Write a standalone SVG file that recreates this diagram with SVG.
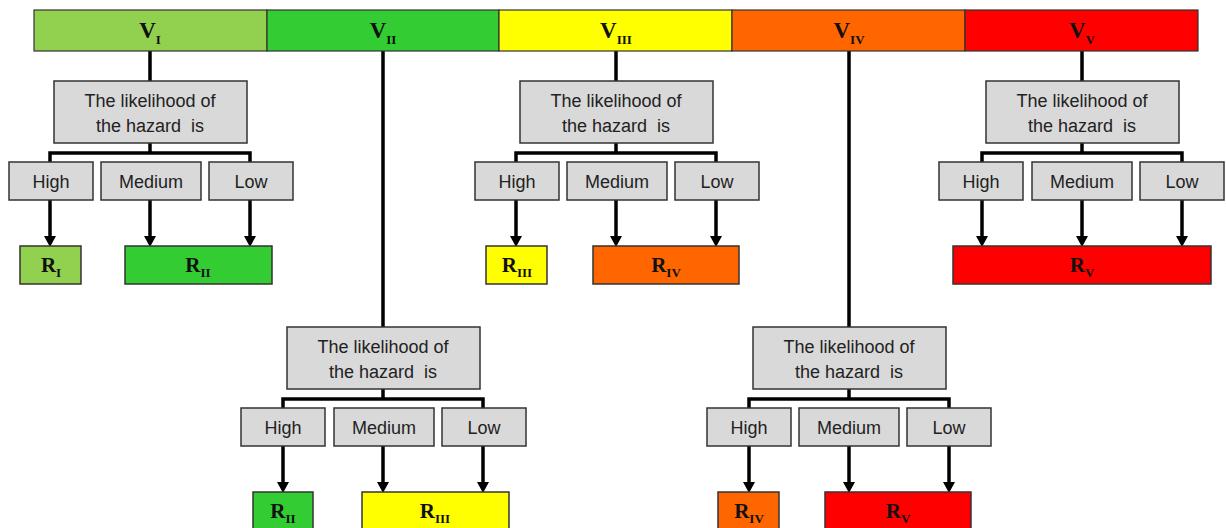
<svg xmlns="http://www.w3.org/2000/svg" width="1226" height="528" viewBox="0 0 1226 528">
<style>
.bar{stroke:#333;stroke-width:1.2}
.box{fill:#D9D9D9;stroke:#333;stroke-width:1.5}
.rbox{stroke:#333;stroke-width:1.5}
.t{font-family:"Liberation Sans",Arial,sans-serif;font-size:18px;fill:#222;text-anchor:middle;white-space:pre}
.v{font-family:"Liberation Serif","Times New Roman",serif;font-weight:bold;font-size:23px;fill:#111;text-anchor:middle}
.r{font-family:"Liberation Serif","Times New Roman",serif;font-weight:bold;font-size:21px;fill:#111;text-anchor:middle}
.s{font-size:13px}
.ln{fill:none;stroke:#000;stroke-width:3.5}
.ar{fill:none;stroke:#000;stroke-width:3.5;marker-end:url(#ah)}
</style>
<defs>
<marker id="ah" markerUnits="userSpaceOnUse" markerWidth="12" markerHeight="12" refX="0" refY="6" orient="auto" viewBox="0 0 11 12">
<path d="M0,0 L11,6 L0,12 z" fill="#000"/>
</marker>
</defs>
<rect width="1226" height="528" fill="#fff"/>

<g id="connectors">
<path class="ln" d="M150 51 V81 M383 51 V327 M616 51 V81 M849 51 V327 M1082 51 V81"/>
<g transform="translate(150,81)">
<path class="ln" d="M0 62 V72 M-100 81 V72 H100 V81"/>
<path class="ar" d="M-100 119 V155"/><path class="ar" d="M0 119 V155"/><path class="ar" d="M100 119 V155"/>
</g>
<g transform="translate(616,81)">
<path class="ln" d="M0 62 V72 M-100 81 V72 H100 V81"/>
<path class="ar" d="M-100 119 V155"/><path class="ar" d="M0 119 V155"/><path class="ar" d="M100 119 V155"/>
</g>
<g transform="translate(1082,81)">
<path class="ln" d="M0 62 V72 M-100 81 V72 H100 V81"/>
<path class="ar" d="M-100 119 V155"/><path class="ar" d="M0 119 V155"/><path class="ar" d="M100 119 V155"/>
</g>
<g transform="translate(383,327)">
<path class="ln" d="M0 62 V72 M-100 81 V72 H100 V81"/>
<path class="ar" d="M-100 119 V155"/><path class="ar" d="M0 119 V155"/><path class="ar" d="M100 119 V155"/>
</g>
<g transform="translate(849,327)">
<path class="ln" d="M0 62 V72 M-100 81 V72 H100 V81"/>
<path class="ar" d="M-100 119 V155"/><path class="ar" d="M0 119 V155"/><path class="ar" d="M100 119 V155"/>
</g>
</g>

<g id="V1"><rect class="bar" x="34" y="10" width="233" height="41" fill="#92D050"/><text class="v" x="150" y="38">V<tspan class="s" dy="6">I</tspan></text></g>
<g id="V2"><rect class="bar" x="267" y="10" width="232" height="41" fill="#33CC33"/><text class="v" x="383" y="38">V<tspan class="s" dy="6">II</tspan></text></g>
<g id="V3"><rect class="bar" x="499" y="10" width="233" height="41" fill="#FFFF00"/><text class="v" x="616" y="38">V<tspan class="s" dy="6">III</tspan></text></g>
<g id="V4"><rect class="bar" x="732" y="10" width="233" height="41" fill="#FF6600"/><text class="v" x="849" y="38">V<tspan class="s" dy="6">IV</tspan></text></g>
<g id="V5"><rect class="bar" x="965" y="10" width="233" height="41" fill="#FF0000"/><text class="v" x="1082" y="38">V<tspan class="s" dy="6">V</tspan></text></g>

<g id="L1" transform="translate(150,81)"><rect class="box" x="-96" y="0" width="193" height="62"/><text class="t" x="0" y="26">The likelihood of</text><text class="t" x="0" y="51">the hazard  is</text></g>
<g id="L1-high" transform="translate(150,81)"><rect class="box" x="-141" y="81" width="84" height="38"/><text class="t" x="-99" y="107">High</text></g>
<g id="L1-medium" transform="translate(150,81)"><rect class="box" x="-49" y="81" width="100" height="38"/><text class="t" x="1" y="107">Medium</text></g>
<g id="L1-low" transform="translate(150,81)"><rect class="box" x="59" y="81" width="84" height="38"/><text class="t" x="101" y="107">Low</text></g>
<g id="R1-a" transform="translate(150,81)"><rect class="rbox" x="-130" y="165" width="61" height="38" fill="#92D050"/><text class="r" x="-99" y="191">R<tspan class="s" dy="5">I</tspan></text></g>
<g id="R1-b" transform="translate(150,81)"><rect class="rbox" x="-25" y="165" width="147" height="38" fill="#33CC33"/><text class="r" x="48" y="191">R<tspan class="s" dy="5">II</tspan></text></g>

<g id="L3" transform="translate(616,81)"><rect class="box" x="-96" y="0" width="193" height="62"/><text class="t" x="0" y="26">The likelihood of</text><text class="t" x="0" y="51">the hazard  is</text></g>
<g id="L3-high" transform="translate(616,81)"><rect class="box" x="-141" y="81" width="84" height="38"/><text class="t" x="-99" y="107">High</text></g>
<g id="L3-medium" transform="translate(616,81)"><rect class="box" x="-49" y="81" width="100" height="38"/><text class="t" x="1" y="107">Medium</text></g>
<g id="L3-low" transform="translate(616,81)"><rect class="box" x="59" y="81" width="84" height="38"/><text class="t" x="101" y="107">Low</text></g>
<g id="R3-a" transform="translate(616,81)"><rect class="rbox" x="-130" y="165" width="61" height="38" fill="#FFFF00"/><text class="r" x="-99" y="191">R<tspan class="s" dy="5">III</tspan></text></g>
<g id="R3-b" transform="translate(616,81)"><rect class="rbox" x="-23" y="165" width="146" height="38" fill="#FF6600"/><text class="r" x="50" y="191">R<tspan class="s" dy="5">IV</tspan></text></g>

<g id="L5" transform="translate(1082,81)"><rect class="box" x="-96" y="0" width="193" height="62"/><text class="t" x="0" y="26">The likelihood of</text><text class="t" x="0" y="51">the hazard  is</text></g>
<g id="L5-high" transform="translate(1082,81)"><rect class="box" x="-143" y="81" width="84" height="38"/><text class="t" x="-101" y="107">High</text></g>
<g id="L5-medium" transform="translate(1082,81)"><rect class="box" x="-50" y="81" width="100" height="38"/><text class="t" x="0" y="107">Medium</text></g>
<g id="L5-low" transform="translate(1082,81)"><rect class="box" x="58" y="81" width="84" height="38"/><text class="t" x="100" y="107">Low</text></g>
<g id="R5" transform="translate(1082,81)"><rect class="rbox" x="-129" y="165" width="258" height="38" fill="#FF0000"/><text class="r" x="0" y="191">R<tspan class="s" dy="5">V</tspan></text></g>

<g id="L2" transform="translate(383,327)"><rect class="box" x="-96" y="0" width="193" height="62"/><text class="t" x="0" y="26">The likelihood of</text><text class="t" x="0" y="51">the hazard  is</text></g>
<g id="L2-high" transform="translate(383,327)"><rect class="box" x="-142" y="81" width="84" height="38"/><text class="t" x="-100" y="107">High</text></g>
<g id="L2-medium" transform="translate(383,327)"><rect class="box" x="-49" y="81" width="100" height="38"/><text class="t" x="1" y="107">Medium</text></g>
<g id="L2-low" transform="translate(383,327)"><rect class="box" x="59" y="81" width="84" height="38"/><text class="t" x="101" y="107">Low</text></g>
<g id="R2-a" transform="translate(383,327)"><rect class="rbox" x="-130" y="165" width="60" height="38" fill="#33CC33"/><text class="r" x="-100" y="191">R<tspan class="s" dy="5">II</tspan></text></g>
<g id="R2-b" transform="translate(383,327)"><rect class="rbox" x="-21" y="165" width="147" height="38" fill="#FFFF00"/><text class="r" x="52" y="191">R<tspan class="s" dy="5">III</tspan></text></g>

<g id="L4" transform="translate(849,327)"><rect class="box" x="-96" y="0" width="193" height="62"/><text class="t" x="0" y="26">The likelihood of</text><text class="t" x="0" y="51">the hazard  is</text></g>
<g id="L4-high" transform="translate(849,327)"><rect class="box" x="-142" y="81" width="84" height="38"/><text class="t" x="-100" y="107">High</text></g>
<g id="L4-medium" transform="translate(849,327)"><rect class="box" x="-50" y="81" width="100" height="38"/><text class="t" x="0" y="107">Medium</text></g>
<g id="L4-low" transform="translate(849,327)"><rect class="box" x="58" y="81" width="84" height="38"/><text class="t" x="100" y="107">Low</text></g>
<g id="R4-a" transform="translate(849,327)"><rect class="rbox" x="-131" y="165" width="61" height="38" fill="#FF6600"/><text class="r" x="-100" y="191">R<tspan class="s" dy="5">IV</tspan></text></g>
<g id="R4-b" transform="translate(849,327)"><rect class="rbox" x="-24" y="165" width="146" height="38" fill="#FF0000"/><text class="r" x="49" y="191">R<tspan class="s" dy="5">V</tspan></text></g>
</svg>
